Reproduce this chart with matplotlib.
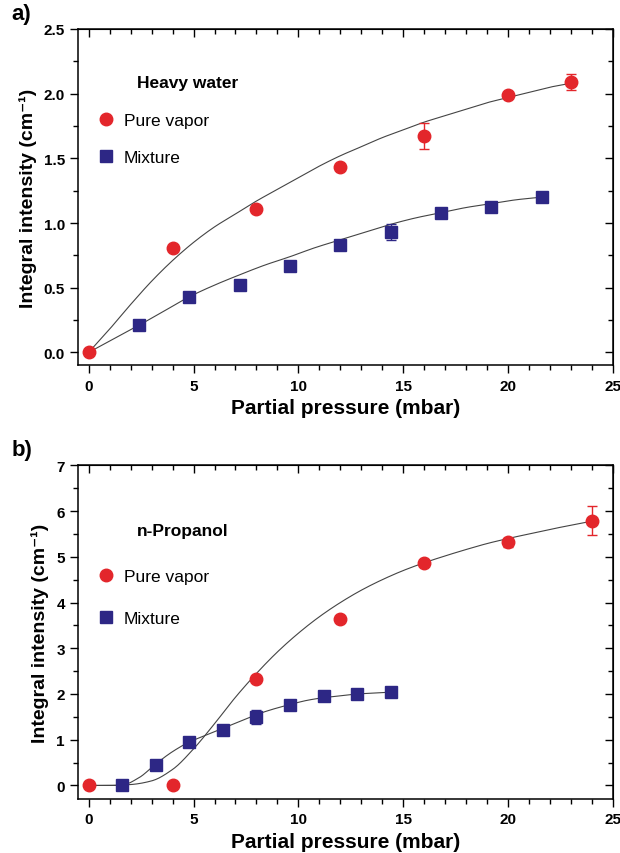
import numpy as np
import matplotlib
matplotlib.use('Agg')
import matplotlib.pyplot as plt
from matplotlib.ticker import MultipleLocator, FormatStrFormatter
from matplotlib.lines import Line2D

plt.rcParams['font.family'] = ['Liberation Sans', 'DejaVu Sans']

RED = '#e3262b'
BLUE = '#2d2785'

# panel a: heavy water
a_pure_x = [0, 4, 8, 12, 16, 20, 23]
a_pure_y = [0.0, 0.81, 1.11, 1.43, 1.67, 1.99, 2.09]
a_pure_err = [0, 0, 0, 0, 0.10, 0, 0.06]
a_mix_x = [2.4, 4.8, 7.2, 9.6, 12.0, 14.4, 16.8, 19.2, 21.6]
a_mix_y = [0.21, 0.43, 0.52, 0.67, 0.83, 0.93, 1.08, 1.12, 1.20]
a_mix_err = [0, 0, 0, 0, 0, 0.06, 0, 0, 0]
# fit curves
a_fit1_x = list(range(0, 24))
a_fit1_y = [0.0, 0.18, 0.37, 0.55, 0.71, 0.85, 0.97, 1.07, 1.17, 1.26, 1.35, 1.44,
            1.52, 1.59, 1.66, 1.72, 1.78, 1.83, 1.88, 1.93, 1.97, 2.01, 2.05, 2.08]
a_fit2_x = [0, 1.2, 2.4, 3.6, 4.8, 6.0, 7.2, 8.4, 9.6, 10.8, 12.0, 13.2, 14.4,
            15.6, 16.8, 18.0, 19.2, 20.4, 21.6]
a_fit2_y = [0.0, 0.105, 0.21, 0.32, 0.43, 0.52, 0.60, 0.675, 0.74, 0.81, 0.87,
            0.93, 0.99, 1.04, 1.08, 1.12, 1.15, 1.18, 1.20]

# panel b: n-propanol
b_pure_x = [0, 4, 8, 12, 16, 20, 24]
b_pure_y = [0.0, 0.0, 2.32, 3.63, 4.87, 5.32, 5.79]
b_pure_err = [0, 0, 0, 0, 0, 0.10, 0.32]
b_mix_x = [1.6, 3.2, 4.8, 6.4, 8.0, 9.6, 11.2, 12.8, 14.4]
b_mix_y = [0.0, 0.45, 0.95, 1.22, 1.50, 1.77, 1.95, 2.00, 2.04]
b_mix_err = [0, 0, 0, 0, 0.16, 0, 0, 0, 0]
b_fit1_x = list(range(0, 25))
b_fit1_y = [0.0, 0.0, 0.02, 0.10, 0.35, 0.80, 1.35, 1.93, 2.45, 2.92, 3.33, 3.69,
            4.00, 4.27, 4.50, 4.70, 4.87, 5.02, 5.16, 5.29, 5.40, 5.50, 5.60, 5.69, 5.78]
b_fit2_x = [0, 0.8, 1.6, 2.4, 3.2, 4.0, 4.8, 5.6, 6.4, 7.2, 8.0, 8.8, 9.6, 10.4,
            11.2, 12.0, 12.8, 13.6, 14.4]
b_fit2_y = [0.0, 0.0, 0.01, 0.17, 0.47, 0.74, 0.95, 1.10, 1.25, 1.40, 1.55, 1.67,
            1.77, 1.86, 1.92, 1.96, 2.00, 2.02, 2.04]


def smooth(x, y, n=20):
    # monotone cubic (Fritsch-Carlson) drawing of the read-off fit curve
    x = np.asarray(x, float)
    y = np.asarray(y, float)
    h = np.diff(x)
    d = np.diff(y) / h
    m = np.zeros_like(y)
    m[0], m[-1] = d[0], d[-1]
    for i in range(1, len(x) - 1):
        if d[i - 1] * d[i] > 0:
            w1 = 2 * h[i] + h[i - 1]
            w2 = h[i] + 2 * h[i - 1]
            m[i] = (w1 + w2) / (w1 / d[i - 1] + w2 / d[i])
    xs, ys = [], []
    for i in range(len(x) - 1):
        t = np.linspace(0, 1, n, endpoint=False)
        h00 = 2 * t**3 - 3 * t**2 + 1
        h10 = t**3 - 2 * t**2 + t
        h01 = -2 * t**3 + 3 * t**2
        h11 = t**3 - t**2
        xs.append(x[i] + t * h[i])
        ys.append(h00 * y[i] + h10 * h[i] * m[i] + h01 * y[i + 1] + h11 * h[i] * m[i + 1])
    xs.append([x[-1]])
    ys.append([y[-1]])
    return np.concatenate(xs), np.concatenate(ys)


panels = [
    dict(tag='a)', name='Heavy water', ylim=(-0.1, 2.5), ymaj=0.5, ymin=0.25, yfmt='%.1f',
         pure=(a_pure_x, a_pure_y, a_pure_err), mix=(a_mix_x, a_mix_y, a_mix_err),
         fit1=(a_fit1_x, a_fit1_y), fit2=(a_fit2_x, a_fit2_y),
         rect=[0.126, 0.571, 0.863, 0.394], leg_y=0.673, spacing=1.25, title_y=0.842),
    dict(tag='b)', name='n-Propanol', ylim=(-0.3, 7), ymaj=1, ymin=0.5, yfmt='%d',
         pure=(b_pure_x, b_pure_y, b_pure_err), mix=(b_mix_x, b_mix_y, b_mix_err),
         fit1=(b_fit1_x, b_fit1_y), fit2=(b_fit2_x, b_fit2_y),
         rect=[0.126, 0.063, 0.863, 0.391], leg_y=0.605, spacing=1.55, title_y=0.805),
]

fig = plt.figure(figsize=(6.2, 8.54), dpi=100)

for p in panels:
    ax = fig.add_axes(p['rect'])
    for fx, fy in (p['fit1'], p['fit2']):
        xs, ys = smooth(fx, fy)
        ax.plot(xs, ys, color='#444444', lw=0.8, zorder=1)
    mx, my, me = p['mix']
    ax.errorbar(mx, my, yerr=me, fmt='s', color=BLUE, ms=8, capsize=3.5,
                elinewidth=1, capthick=1, zorder=3)
    px, py, pe = p['pure']
    ax.errorbar(px, py, yerr=pe, fmt='o', color=RED, ms=9, capsize=3.5,
                elinewidth=1, capthick=1, zorder=4)

    ax.set_xlim(-0.5, 25)
    ax.set_ylim(*p['ylim'])
    ax.xaxis.set_major_locator(MultipleLocator(5))
    ax.xaxis.set_minor_locator(MultipleLocator(1))
    ax.yaxis.set_major_locator(MultipleLocator(p['ymaj']))
    ax.yaxis.set_minor_locator(MultipleLocator(p['ymin']))
    ax.yaxis.set_major_formatter(FormatStrFormatter(p['yfmt']))
    ax.tick_params(which='major', direction='out', length=6, width=1, labelsize=11)
    ax.tick_params(which='minor', direction='out', length=3.5, width=1)
    for lab in ax.get_xticklabels() + ax.get_yticklabels():
        lab.set_fontweight('bold')
    for s in ax.spines.values():
        s.set_linewidth(1.1)

    top = ax.secondary_xaxis('top')
    top.xaxis.set_major_locator(MultipleLocator(5))
    top.xaxis.set_minor_locator(MultipleLocator(1))
    top.tick_params(which='major', direction='in', length=6, width=1, labeltop=False)
    top.tick_params(which='minor', direction='in', length=3.5, width=1)
    right = ax.secondary_yaxis('right')
    right.yaxis.set_major_locator(MultipleLocator(p['ymaj']))
    right.yaxis.set_minor_locator(MultipleLocator(p['ymin']))
    right.tick_params(which='major', direction='in', length=6, width=1, labelright=False)
    right.tick_params(which='minor', direction='in', length=3.5, width=1)

    ax.set_xlabel('Partial pressure (mbar)', fontsize=15, fontweight='bold', labelpad=4)
    ax.set_ylabel('Integral intensity (cm\u207b\u00b9)', fontsize=14,
                  fontweight='bold', labelpad=5)

    ax.text(0.110, p['title_y'], p['name'], transform=ax.transAxes, fontsize=12.5,
            fontweight='bold', va='center', ha='left')
    handles = [Line2D([], [], ls='none', marker='o', color=RED, ms=9),
               Line2D([], [], ls='none', marker='s', color=BLUE, ms=8)]
    ax.legend(handles, ['Pure vapor', 'Mixture'], loc='center left',
              bbox_to_anchor=(0.035, p['leg_y']), frameon=False, fontsize=12.5,
              handlelength=1.1, handletextpad=0.45, labelspacing=p['spacing'],
              borderpad=0, borderaxespad=0)

    fig.text(0.018, p['rect'][1] + p['rect'][3] + 0.018, p['tag'], fontsize=16,
             fontweight='bold', va='center')

fig.savefig('out.png', dpi=100)
